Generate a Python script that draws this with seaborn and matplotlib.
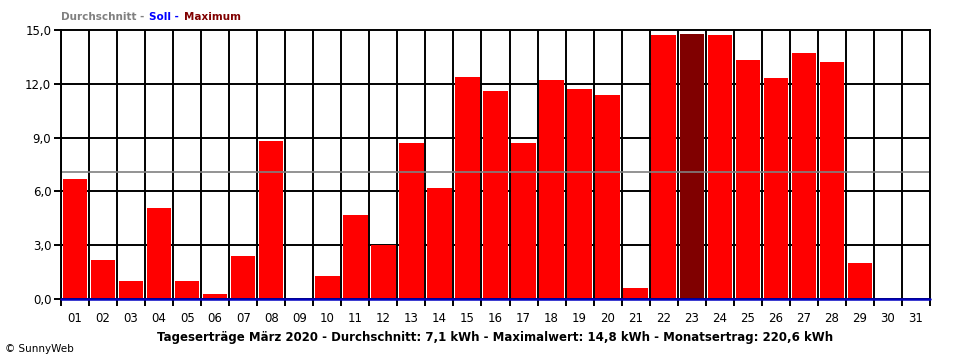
import matplotlib
matplotlib.use("Agg")
import matplotlib.pyplot as plt
import seaborn as sns
import pandas as pd

# daily yield (kWh), March 2020
days = [f"{d:02d}" for d in range(1, 32)]
ertrag = [6.7, 2.2, 1.0, 5.1, 1.0, 0.3, 2.4, 8.8, 0.0, 1.3,
          4.7, 3.0, 8.7, 6.2, 12.4, 11.6, 8.7, 12.2, 11.7, 11.4,
          0.6, 14.7, 14.8, 14.7, 13.3, 12.3, 13.7, 13.2, 2.0, 0.0, 0.0]
durchschnitt = 7.1
soll = 0.0
y_ticks = [0, 3, 6, 9, 12, 15]

df = pd.DataFrame({"Tag": days, "kWh": ertrag})
max_day = days[ertrag.index(max(ertrag))]
colors = {d: ("#800000" if d == max_day else "#ff0000") for d in days}

sns.set_style("white")
plt.rcParams["font.family"] = ["DejaVu Sans"]
plt.rcParams["text.color"] = "black"
plt.rcParams["xtick.color"] = "black"
plt.rcParams["ytick.color"] = "black"

fig = plt.figure(figsize=(9.6, 3.6), dpi=100)
ax = fig.add_axes([61 / 960, 61 / 360, 869 / 960, 269 / 360])

sns.barplot(data=df, x="Tag", y="kWh", hue="Tag", palette=colors, legend=False,
            width=0.87, saturation=1, linewidth=0, ax=ax)
for p in ax.patches:
    p.set_zorder(3)

# grid below the bars
for y in y_ticks[1:-1]:
    ax.axhline(y, color="black", lw=1.4, zorder=1)
for i in range(len(days) + 1):
    ax.axvline(i - 0.5, color="black", lw=1.4, zorder=1)

ax.axhline(durchschnitt, color="#808080", lw=1.2, zorder=4)
ax.axhline(soll, color="#0000c0", lw=1.8, zorder=7, clip_on=False)

ax.set_xlim(-0.5, len(days) - 0.5)
ax.set_ylim(0, 15)
ax.set_yticks(y_ticks)
ax.set_yticklabels([f"{v:.1f}".replace(".", ",") for v in y_ticks], fontsize=8.5)
ax.set_xticks(range(len(days)))
ax.set_xticklabels(days, fontsize=8.5)
ax.set_xticks([i - 0.5 for i in range(len(days) + 1)], minor=True)
ax.tick_params(axis="x", which="major", length=0, pad=9)
ax.tick_params(axis="x", which="minor", length=5, width=1.4, color="black", bottom=True)
ax.tick_params(axis="y", length=5, width=1.4, color="black", left=True, pad=2)
ax.set_xlabel("")
ax.set_ylabel("")
for s in ax.spines.values():
    s.set_color("black")
    s.set_linewidth(1.4)
    s.set_zorder(6)

# header legend, pieces placed one after another
fig.canvas.draw()
renderer = fig.canvas.get_renderer()
x0 = 61
for txt, col in [("Durchschnitt -", "#808080"), ("Soll -", "#0000ff"), ("Maximum", "#800000")]:
    t = fig.text(x0 / 960, 1 - 17 / 360, txt, color=col, fontsize=7.5,
                 fontweight="bold", va="center")
    bb = t.get_window_extent(renderer)
    x0 = bb.x1 + 5

fig.text(495 / 960, 1 - 337 / 360,
         "Tageserträge März 2020 - Durchschnitt: 7,1 kWh - Maximalwert: 14,8 kWh - Monatsertrag: 220,6 kWh",
         ha="center", va="center", fontsize=8.5, fontweight="bold")
fig.text(5 / 960, 1 - 349 / 360, "© SunnyWeb", fontsize=7.5, va="center")

fig.savefig("out.png", dpi=100)
